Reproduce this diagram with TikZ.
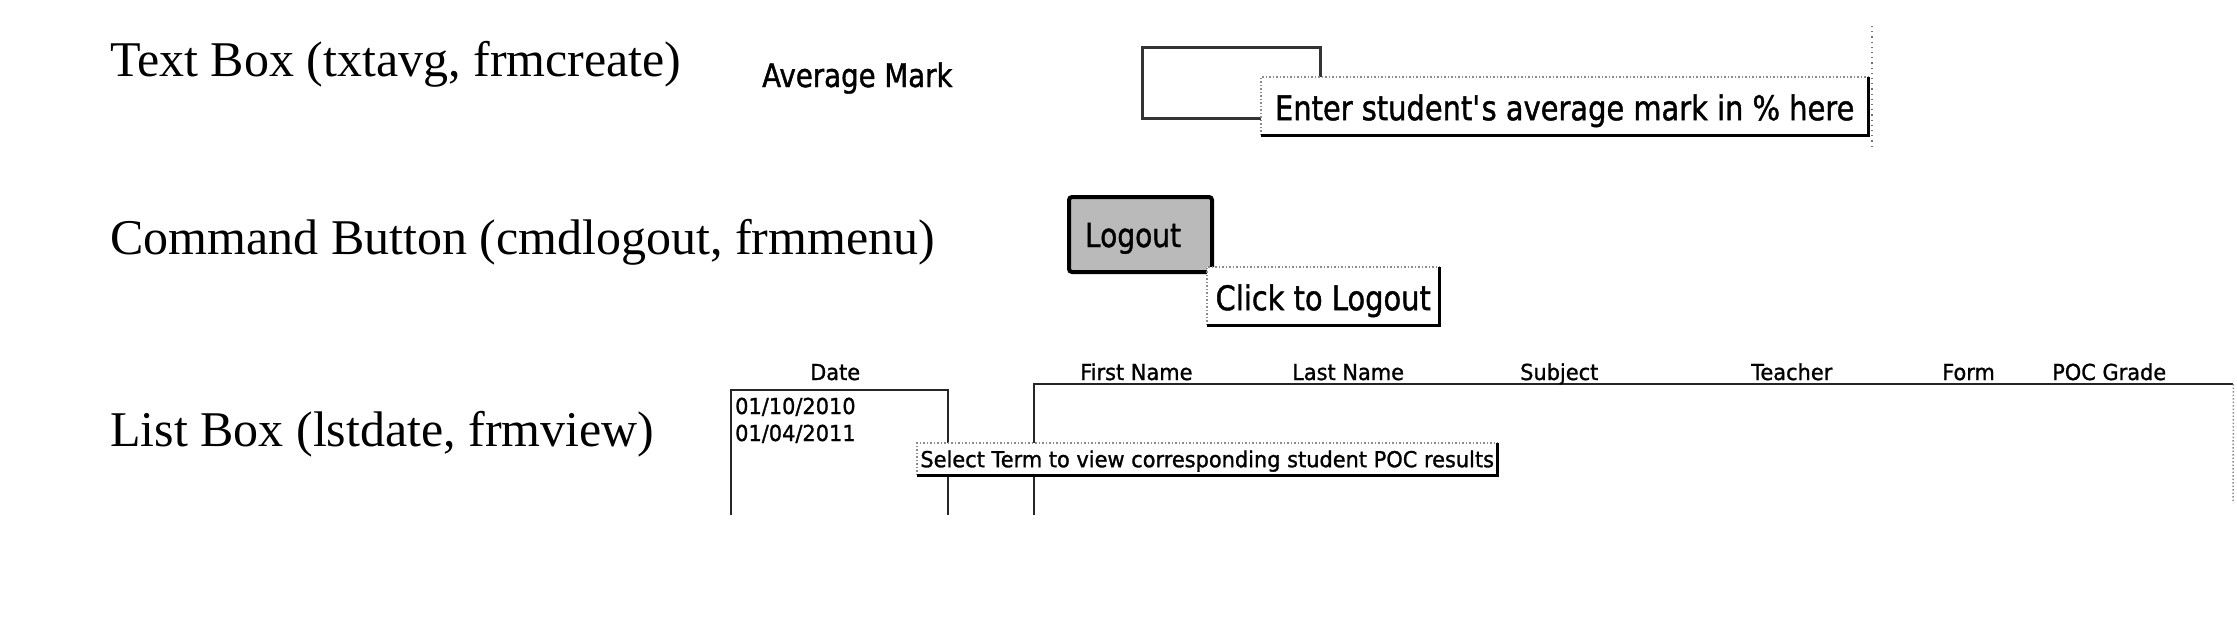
\documentclass[tikz,border=0pt]{standalone}
\usepackage{fontspec}
\setmainfont{Liberation Serif}
\newfontfamily\tipfont[FakeStretch=0.85, FakeBold=1.2]{DejaVu Sans}
\newfontfamily\gridfont[FakeStretch=0.95, FakeBold=1.2]{DejaVu Sans}
\usetikzlibrary{positioning}

\begin{document}
\begin{tikzpicture}[x=1pt, y=-1pt,
		ctrllabel/.style={anchor=base west, inner sep=0pt, font=\fontsize{50}{60}\selectfont},
		formtext/.style={anchor=base west, inner sep=0pt, font=\tipfont\fontsize{32.5}{40}\selectfont},
		gridtext/.style={anchor=base west, inner sep=0pt, font=\gridfont\fontsize{22}{26}\selectfont},
		tooltip/.style={anchor=north west, inner sep=0pt, fill=white},
		lightedge/.style={black!45, line width=1.5pt, dotted},
		darkedge/.style={black, line width=2.5pt},
		listedge/.style={black!85, line width=2pt},
	]
		\useasboundingbox (0,0) rectangle (2237,624);
		% control names
		\node[ctrllabel] (lbltxt) at (110,76) {Text Box (txtavg, frmcreate)};
		\node[ctrllabel] (lblcmd) at (110,254) {Command Button (cmdlogout, frmmenu)};
		\node[ctrllabel] (lbllst) at (110,446) {List Box (lstdate, frmview)};
		% text box
		\node[formtext] (avgmark) at (762,87) {Average Mark};
		\node[draw=black!80, line width=2.5pt, anchor=north west, minimum width=178pt, minimum height=71pt, inner sep=0pt] (txtavg) at (1141,46) {};
		\coordinate (frmtop) at (1872,26);
		\coordinate (frmbot) at (1872,146);
		\draw[black!55, line width=1.2pt, loosely dotted] (frmtop) -- (frmbot);
		\node[tooltip, font=\tipfont\fontsize{34}{40}\selectfont, minimum width=607pt, text height=43pt, text depth=15pt] (tipavg) at (1261,77) {Enter student\textquotesingle s average mark in \% here};
		\draw[lightedge] (tipavg.south west) -- (tipavg.north west) -- (tipavg.north east);
		\draw[darkedge] (tipavg.north east) -- (tipavg.south east) -- (tipavg.south west);
		% command button
		\node[draw=black, line width=4pt, rounded corners=3pt, fill=black!27, anchor=north west, text width=111pt, align=left, inner xsep=16pt, inner ysep=0pt, text height=50pt, text depth=25pt, font=\tipfont\fontsize{33}{40}\selectfont] (cmdlogout) at (1067,195) {Logout};
		\node[tooltip, font=\tipfont\fontsize{34}{40}\selectfont, minimum width=232pt, text height=43pt, text depth=15pt] (tiplogout) at (1207,267) {Click to Logout};
		\draw[lightedge] (tiplogout.south west) -- (tiplogout.north west) -- (tiplogout.north east);
		\draw[darkedge] (tiplogout.north east) -- (tiplogout.south east) -- (tiplogout.south west);
		% list box and grid
		\node[anchor=north west, minimum width=217pt, minimum height=125pt, inner sep=0pt] (lstdate) at (731,390) {};
		\draw[listedge] (lstdate.south west) -- (lstdate.north west) -- (lstdate.north east) -- (lstdate.south east);
		\node[anchor=north west, minimum width=1199pt, minimum height=131pt, inner sep=0pt] (grdpoc) at (1034,384) {};
		\coordinate (grdend) at (2233,503);
		\draw[listedge] (grdpoc.south west) -- (grdpoc.north west) -- (grdpoc.north east);
		\draw[lightedge] (grdpoc.north east) -- (grdend);
		\foreach \x/\t [count=\i] in {810/Date, 1080/First Name, 1292/Last Name, 1520/Subject, 1751/Teacher, 1942/Form, 2052/POC Grade}
			\node[gridtext] (hd\i) at (\x,380) {\t};
		\node[gridtext] (term1) at (735,414) {01/10/2010};
		\node[gridtext] (term2) at (735,441) {01/04/2011};
		\node[tooltip, font=\gridfont\fontsize{22}{26}\selectfont, minimum width=580pt, text height=24pt, text depth=8pt] (tiplst) at (917,443) {Select Term to view corresponding student POC results};
		\draw[lightedge] (tiplst.south west) -- (tiplst.north west) -- (tiplst.north east);
		\draw[darkedge] (tiplst.north east) -- (tiplst.south east) -- (tiplst.south west);
	\end{tikzpicture}
\end{document}
